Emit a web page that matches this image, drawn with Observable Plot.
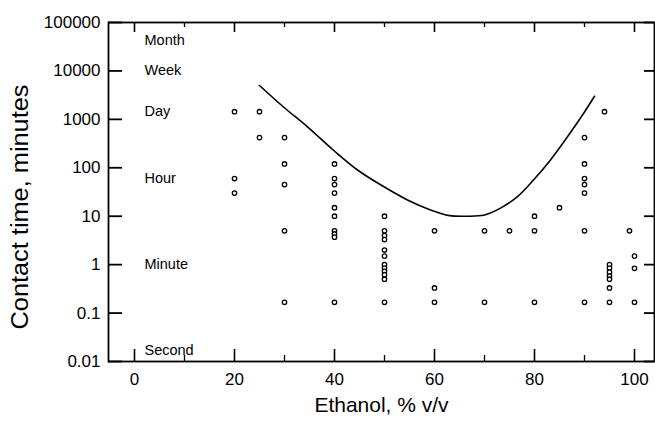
<!DOCTYPE html>
<html>
<head>
<meta charset="utf-8">
<script src="https://cdn.jsdelivr.net/npm/d3@7"></script>
<script src="https://cdn.jsdelivr.net/npm/@observablehq/plot@0.6"></script>
<style>
  html, body { margin: 0; padding: 0; background: #ffffff; }
  #chart { width: 655px; height: 432px; }
</style>
</head>
<body>
<div id="chart"></div>
<script>
// ---- data ----
const pointEthanol = [
  20, 20, 20,
  25, 25,
  30, 30, 30, 30, 30,
  40, 40, 40, 40, 40, 40, 40, 40, 40, 40,
  50, 50, 50, 50, 50, 50, 50, 50, 50, 50, 50, 50,
  60, 60, 60,
  70, 70,
  75,
  80, 80, 80,
  85,
  90, 90, 90, 90, 90, 90, 90,
  94,
  95, 95, 95, 95, 95, 95, 95,
  99,
  100, 100, 100
];
const pointMinutes = [
  1440, 60, 30,
  1440, 420,
  420, 120, 45, 5, 0.167,
  120, 60, 45, 30, 15, 10, 5, 4.3, 3.7, 0.167,
  10, 5, 4, 3.3, 2, 1.5, 1, 0.85, 0.73, 0.62, 0.5, 0.167,
  5, 0.33, 0.167,
  5, 0.167,
  5,
  10, 5, 0.167,
  15,
  420, 120, 60, 45, 30, 5, 0.167,
  1440,
  1, 0.85, 0.7, 0.58, 0.5, 0.33, 0.167,
  5,
  1.5, 0.84, 0.167
];

const curveEthanol = [25, 29.8, 34.6, 39.8, 44.6, 49.8, 54.6, 59.2, 63, 66.5, 70, 73.2, 76.6, 79.8, 83.2, 86.6, 89.8, 92];
const curveMinutes = [5000, 1800, 700, 230, 90, 41, 21.7, 13.5, 10.3, 10, 10.6, 14.7, 25.4, 56, 145, 437, 1320, 3000];

const timeLabels = ["Month", "Week", "Day", "Hour", "Minute", "Second"];
const timeMinutes = [43200, 10080, 1440, 60, 1, 1 / 60];

const yTicks = [0.01, 0.1, 1, 10, 100, 1000, 10000, 100000];
const yTickLabels = ["0.01", "0.1", "1", "10", "100", "1000", "10000", "100000"];
const xLabelTicks = [0, 20, 40, 60, 80, 100];
const xMajorTicks = [0, 20, 40, 60, 80, 100];
const xMinorTicks = [10, 30, 50, 70, 90];

const xTitle = "Ethanol, % v/v";
const yTitle = "Contact time, minutes";

// ---- build tables ----
const points = pointEthanol.map((e, i) => ({ethanol: e, minutes: pointMinutes[i]}));
const curve = curveEthanol.map((e, i) => ({ethanol: e, minutes: curveMinutes[i]}));
const times = timeLabels.map((t, i) => ({label: t, minutes: timeMinutes[i]}));

const W = 655, H = 432, ML = 108, MR = 1, MT = 22, MB = 71;
const FW = W - ML - MR, FH = H - MT - MB;

const chart = Plot.plot({
  width: W,
  height: H,
  marginLeft: ML,
  marginRight: MR,
  marginTop: MT,
  marginBottom: MB,
  style: {fontFamily: "'Liberation Sans', Arial, sans-serif", background: "#ffffff", color: "#000000"},
  x: {domain: [-5.2, 104], axis: null},
  y: {type: "log", domain: [0.01, 100000], axis: null},
  marks: [
    Plot.frame({stroke: "#000", strokeWidth: 1.8}),
    // inward ticks
    Plot.tickY(yTicks, {y: d => d, insetRight: FW - 14, stroke: "#000", strokeWidth: 1.8}),
    Plot.tickY(yTicks, {y: d => d, insetLeft: FW - 10, stroke: "#000", strokeWidth: 1.8}),
    Plot.tickX(xMajorTicks, {x: d => d, insetTop: FH - 12, stroke: "#000", strokeWidth: 1.6}),
    Plot.tickX(xMinorTicks, {x: d => d, insetTop: FH - 6, stroke: "#000", strokeWidth: 1.3}),
    Plot.tickX(xMajorTicks, {x: d => d, insetBottom: FH - 10, stroke: "#000", strokeWidth: 1.6}),
    Plot.tickX(xMinorTicks, {x: d => d, insetBottom: FH - 5, stroke: "#000", strokeWidth: 1.3}),
    // axes labels
    Plot.axisY({anchor: "left", ticks: yTicks, tickFormat: d => yTickLabels[yTicks.indexOf(d)], tickSize: 0, tickPadding: 8, fontSize: 17, label: null, color: "#000"}),
    Plot.axisX({anchor: "bottom", ticks: xLabelTicks, tickFormat: d => String(d), tickSize: 0, tickPadding: 11, fontSize: 17, label: null, color: "#000"}),
    Plot.text([xTitle], {frameAnchor: "bottom", dy: 50, fontSize: 21, fill: "#000"}),
    Plot.text([yTitle], {frameAnchor: "left", textAnchor: "middle", dx: -88, dy: 15, rotate: -90, fontSize: 23, fill: "#000", className: "ytitle"}),
    // time annotations
    Plot.text(times, {x: 2, y: "minutes", text: "label", textAnchor: "start", fontSize: 14.5, fill: "#000"}),
    // curve and points
    Plot.line(curve, {x: "ethanol", y: "minutes", curve: "catmull-rom", stroke: "#000", strokeWidth: 1.6}),
    Plot.dot(points, {x: "ethanol", y: "minutes", r: 2.2, stroke: "#000", strokeWidth: 1.3, fill: "#fff"})
  ]
});
document.getElementById("chart").appendChild(chart);
// stretch the y-title to the length seen in the reference
chart.querySelectorAll(".ytitle text").forEach(t => {
  t.setAttribute("textLength", "245");
  t.setAttribute("lengthAdjust", "spacingAndGlyphs");
});
</script>
</body>
</html>
